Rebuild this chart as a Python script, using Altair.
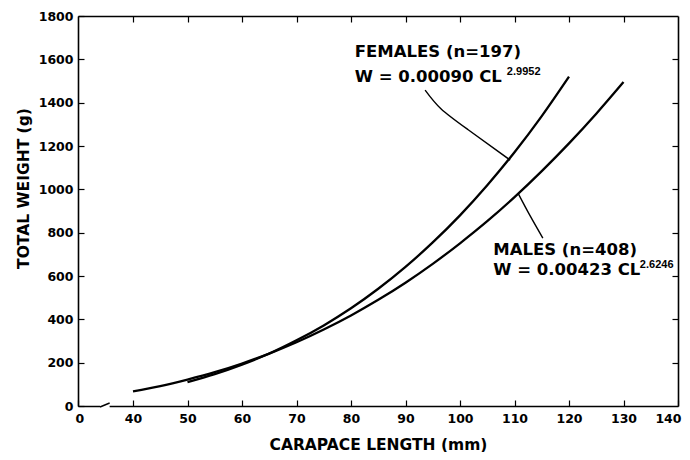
import altair as alt
import pandas as pd

# ---- data ----
female_cl = [50, 55, 60, 65, 70, 75, 80, 85, 90, 95, 100, 105, 110, 115, 120]
female_w = [110, 147, 191, 242, 303, 372, 451, 541, 642, 755, 880, 1019, 1171, 1338, 1520]

male_cl = [40, 45, 50, 55, 60, 65, 70, 75, 80, 85, 90, 95, 100, 105, 110, 115, 120, 125, 130]
male_w = [68, 92, 122, 156, 196, 242, 294, 353, 418, 490, 569, 656, 751, 853, 964, 1084, 1212, 1349, 1495]

# leader lines from labels to curves
female_leader_cl = [93.6, 96.5, 101.5, 109.2]
female_leader_w = [1458, 1372, 1275, 1135]
male_leader_cl = [110.7, 112.8, 115.2]
male_leader_w = [980, 881, 775]

x_label_values = [0, 40, 50, 60, 70, 80, 90, 100, 110, 120, 130, 140]
y_label_values = [0, 200, 400, 600, 800, 1000, 1200, 1400, 1600, 1800]
x_tick_values = [40, 50, 60, 70, 80, 90, 100, 110, 120, 130]
y_tick_values = [200, 400, 600, 800, 1000, 1200, 1400, 1600]

labels_main = ["FEMALES (n=197)", "W = 0.00090 CL", "MALES (n=408)", "W = 0.00423 CL"]
labels_main_x = [80.7, 80.7, 106.1, 106.1]
labels_main_y = [1634, 1520, 720, 628]
labels_sup = ["2.9952", "2.6246"]
labels_sup_x = [108.6, 133.0]
labels_sup_y = [1541, 651]

# axis break glyph position (data units)
break_x = [16, 23]

FONT = "DejaVu Sans"
W, H = 600, 390
INWARD = alt.ExprRef(expr="-6")   # inward-pointing ticks

xscale = alt.Scale(domain=[0, 40, 140], range=[0, 55, W], nice=False, zero=False)
yscale = alt.Scale(domain=[0, 1800], nice=False)

curves = pd.DataFrame(
    {"cl": female_cl + male_cl,
     "w": female_w + male_w,
     "sex": ["F"] * len(female_cl) + ["M"] * len(male_cl)}
)
leaders = pd.DataFrame(
    {"cl": female_leader_cl + male_leader_cl,
     "w": female_leader_w + male_leader_w,
     "sex": ["F"] * len(female_leader_cl) + ["M"] * len(male_leader_cl)}
)

common = dict(domain=True, domainColor="black", domainWidth=1.6, grid=False,
              ticks=True, tickSize=INWARD, tickColor="black", tickWidth=1.2)

xaxis = alt.Axis(orient="bottom", values=x_label_values, title="CARAPACE LENGTH (mm)",
                 titleFont=FONT, titleFontSize=15.5, titleFontWeight="bold", titleColor="black",
                 titleY=43, titleBaseline="alphabetic",
                 labelFont=FONT, labelFontSize=12.5, labelFontWeight="bold",
                 labelColor="black", labelPadding=12,
                 labelFlush=True, labelFlushOffset=3, **common)
yaxis = alt.Axis(orient="left", values=y_label_values, format="d", title="TOTAL WEIGHT (g)",
                 titleFont=FONT, titleFontSize=15.5, titleFontWeight="bold", titleColor="black",
                 titleX=-55, titleY=172, titleAngle=270, titleAlign="center",
                 titleBaseline="middle",
                 labelFont=FONT, labelFontSize=12.5, labelFontWeight="bold",
                 labelColor="black", labelPadding=11, labelFlush=False, **common)
top_axis = alt.Axis(orient="top", values=x_tick_values, labels=False, title=None, **common)
right_axis = alt.Axis(orient="right", values=y_tick_values, labels=False, title=None, **common)

lines = alt.Chart(curves).mark_line(color="black", strokeWidth=2.3, interpolate="monotone").encode(
    x=alt.X("cl:Q", scale=xscale, axis=xaxis),
    y=alt.Y("w:Q", scale=yscale, axis=yaxis),
    detail="sex:N",
)

frame_layer = alt.Chart(curves).mark_line(strokeOpacity=0).encode(
    x=alt.X("cl:Q", scale=xscale, axis=top_axis),
    y=alt.Y("w:Q", scale=yscale, axis=right_axis),
    detail="sex:N",
)

leader_lines = alt.Chart(leaders).mark_line(color="black", strokeWidth=1.4, interpolate="natural").encode(
    x=alt.X("cl:Q", scale=xscale, axis=None), y=alt.Y("w:Q", scale=yscale, axis=None), detail="sex:N"
)

brk = pd.DataFrame({"x1": [break_x[0]], "x2": [break_x[1]]})
break_gap = alt.Chart(brk).mark_rect(color="white").encode(
    x=alt.X("x1:Q", scale=xscale, axis=None), x2="x2:Q", y=alt.value(H - 3), y2=alt.value(H + 3))
break_low = alt.Chart(brk).mark_rule(color="black", strokeWidth=1.4).encode(
    x=alt.X("x1:Q", scale=xscale, axis=None), x2="x2:Q", y=alt.value(H + 1), y2=alt.value(H - 3))

tm = pd.DataFrame({"x": labels_main_x, "y": labels_main_y, "t": labels_main})
ts = pd.DataFrame({"x": labels_sup_x, "y": labels_sup_y, "t": labels_sup})
text_main = alt.Chart(tm).mark_text(font=FONT, fontSize=16.5, fontWeight="bold", align="left",
                                    baseline="middle", color="black").encode(
    x=alt.X("x:Q", scale=xscale, axis=None), y=alt.Y("y:Q", scale=yscale, axis=None), text="t:N")
text_sup = alt.Chart(ts).mark_text(font="Liberation Sans", fontSize=11, fontWeight="bold", align="left",
                                   baseline="middle", color="black").encode(
    x=alt.X("x:Q", scale=xscale, axis=None), y=alt.Y("y:Q", scale=yscale, axis=None), text="t:N")

chart = alt.layer(
    lines, frame_layer, leader_lines, break_gap, break_low, text_main, text_sup
).resolve_axis(x="independent", y="independent").properties(
    width=W, height=H,
    autosize=alt.AutoSizeParams(type="none"),
    padding={"left": 70, "top": 8, "right": 4, "bottom": 46},
    background="white",
).configure_view(stroke=None)

chart.save("out.html", embed_options={"renderer": "svg", "actions": False})
